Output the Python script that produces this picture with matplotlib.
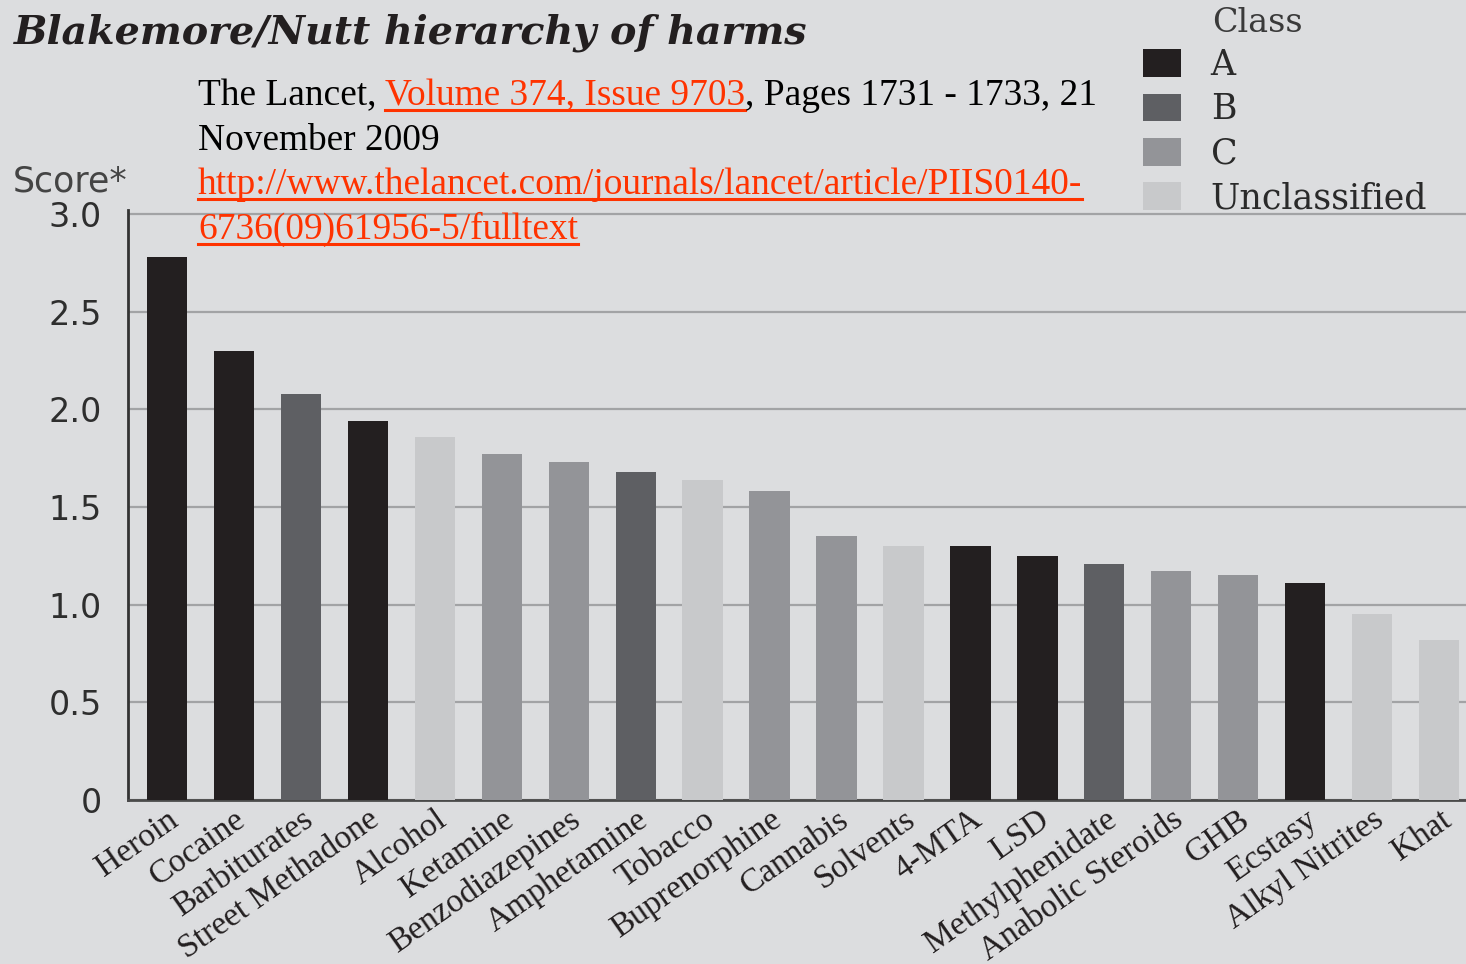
import numpy as np
import matplotlib.pyplot as plt
from matplotlib.patches import Patch
from matplotlib.lines import Line2D

# data
drugs = ['Heroin', 'Cocaine', 'Barbiturates', 'Street Methadone', 'Alcohol',
         'Ketamine', 'Benzodiazepines', 'Amphetamine', 'Tobacco', 'Buprenorphine',
         'Cannabis', 'Solvents', '4-MTA', 'LSD', 'Methylphenidate',
         'Anabolic Steroids', 'GHB', 'Ecstasy', 'Alkyl Nitrites', 'Khat']
scores = [2.78, 2.30, 2.08, 1.94, 1.86, 1.77, 1.73, 1.68, 1.64, 1.58,
          1.35, 1.30, 1.30, 1.25, 1.21, 1.17, 1.15, 1.11, 0.95, 0.82]
drug_class = ['A', 'A', 'B', 'A', 'U', 'C', 'C', 'B', 'U', 'C',
              'C', 'U', 'A', 'A', 'B', 'C', 'C', 'A', 'U', 'U']
class_names = ['A', 'B', 'C', 'Unclassified']
class_keys = ['A', 'B', 'C', 'U']
class_colors = {'A': '#231f20', 'B': '#5e5f63', 'C': '#939498', 'U': '#c8c9cb'}
yticks = [0, 0.5, 1.0, 1.5, 2.0, 2.5, 3.0]
ytick_labels = ['0', '0.5', '1.0', '1.5', '2.0', '2.5', '3.0']

W, H = 1466, 964
bg = '#dcdddf'
red = '#ff3300'

def fx(px):
    return px / W

def fy(py):
    return 1 - py / H

fig = plt.figure(figsize=(W / 100, H / 100), dpi=100, facecolor=bg)

# axes: y=0 at 800px, y=3 at 214px
y0_px, unit_px = 800, (800 - 214) / 3
ymax = 3.02
ax = fig.add_axes([fx(128), fy(y0_px), 1 - fx(128), ymax * unit_px / H])
ax.set_facecolor(bg)

x = np.arange(len(drugs))
cols = [class_colors[c] for c in drug_class]
ax.bar(x, scores, width=0.6, color=cols, zorder=3)

ax.set_xlim(-0.58, 19.4)
ax.set_ylim(0, ymax)
ax.set_yticks(yticks)
ax.set_yticklabels(ytick_labels, fontsize=24, color='#2e2e2e', family='DejaVu Sans')
ax.tick_params(axis='y', length=0, pad=19)
ax.yaxis.grid(True, color='#a2a3a5', lw=1.6, zorder=0)
ax.set_axisbelow(True)

ax.set_xticks(x)
ax.set_xticklabels(drugs, rotation=35, ha='right', va='top', rotation_mode='anchor',
                   fontsize=24, family='Liberation Serif', color='#231f20')
ax.tick_params(axis='x', length=0, pad=3)

for s in ['top', 'right']:
    ax.spines[s].set_visible(False)
ax.spines['left'].set_color('#333333')
ax.spines['left'].set_linewidth(2)
ax.spines['bottom'].set_color('#4a4a4a')
ax.spines['bottom'].set_linewidth(2)

# title and axis caption
fig.text(fx(14), fy(33), 'Blakemore/Nutt hierarchy of harms', fontsize=28.5,
         family='DejaVu Serif', weight='bold', style='italic', color='#231f20',
         va='center', ha='left')
fig.text(fx(13), fy(181), 'Score*', fontsize=25, family='DejaVu Sans',
         color='#444444', va='center', ha='left')

# legend
handles = [Patch(facecolor=class_colors[k], edgecolor='none') for k in class_keys]
leg = fig.legend(handles, class_names, loc='upper left',
                 bbox_to_anchor=(fx(1143), fy(48)), frameon=False,
                 prop={'family': 'DejaVu Serif', 'size': 25},
                 handlelength=1.1, handleheight=0.85, handletextpad=0.85,
                 labelspacing=0.3, borderaxespad=0, borderpad=0)
for t in leg.get_texts():
    t.set_color('#2a2a2a')
fig.text(fx(1212), fy(23), 'Class', fontsize=24, family='DejaVu Serif',
         color='#3a3a3a', va='center', ha='left')

# citation with underlined links
renderer = fig.canvas.get_renderer()
cite_kw = dict(fontsize=26.9, family='Liberation Serif', va='baseline', ha='left')

def text_w(s):
    t = fig.text(0, 0, s, **cite_kw)
    w = t.get_window_extent(renderer).width
    t.remove()
    return w

def draw_line(segments, x0_px, base_px):
    done = ''
    for s, link in segments:
        if done:
            start = x0_px + text_w(done + s[0]) - text_w(s[0])
        else:
            start = x0_px
        fig.text(fx(start), fy(base_px), s, color=red if link else 'black', **cite_kw)
        if link:
            w = text_w(s)
            fig.add_artist(Line2D([fx(start), fx(start + w)], [fy(base_px + 5)] * 2,
                                  color=red, lw=2.2, transform=fig.transFigure))
        done += s

cite_lines = [
    [('The Lancet, ', False), ('Volume 374, Issue 9703', True),
     (', Pages 1731 - 1733, 21', False)],
    [('November 2009', False)],
    [('http://www.thelancet.com/journals/lancet/article/PIIS0140-', True)],
    [('6736(09)61956-5/fulltext', True)],
]
for i, segs in enumerate(cite_lines):
    draw_line(segs, 198, 105 + 44.5 * i)

fig.savefig('out.png', dpi=100, facecolor=bg)
